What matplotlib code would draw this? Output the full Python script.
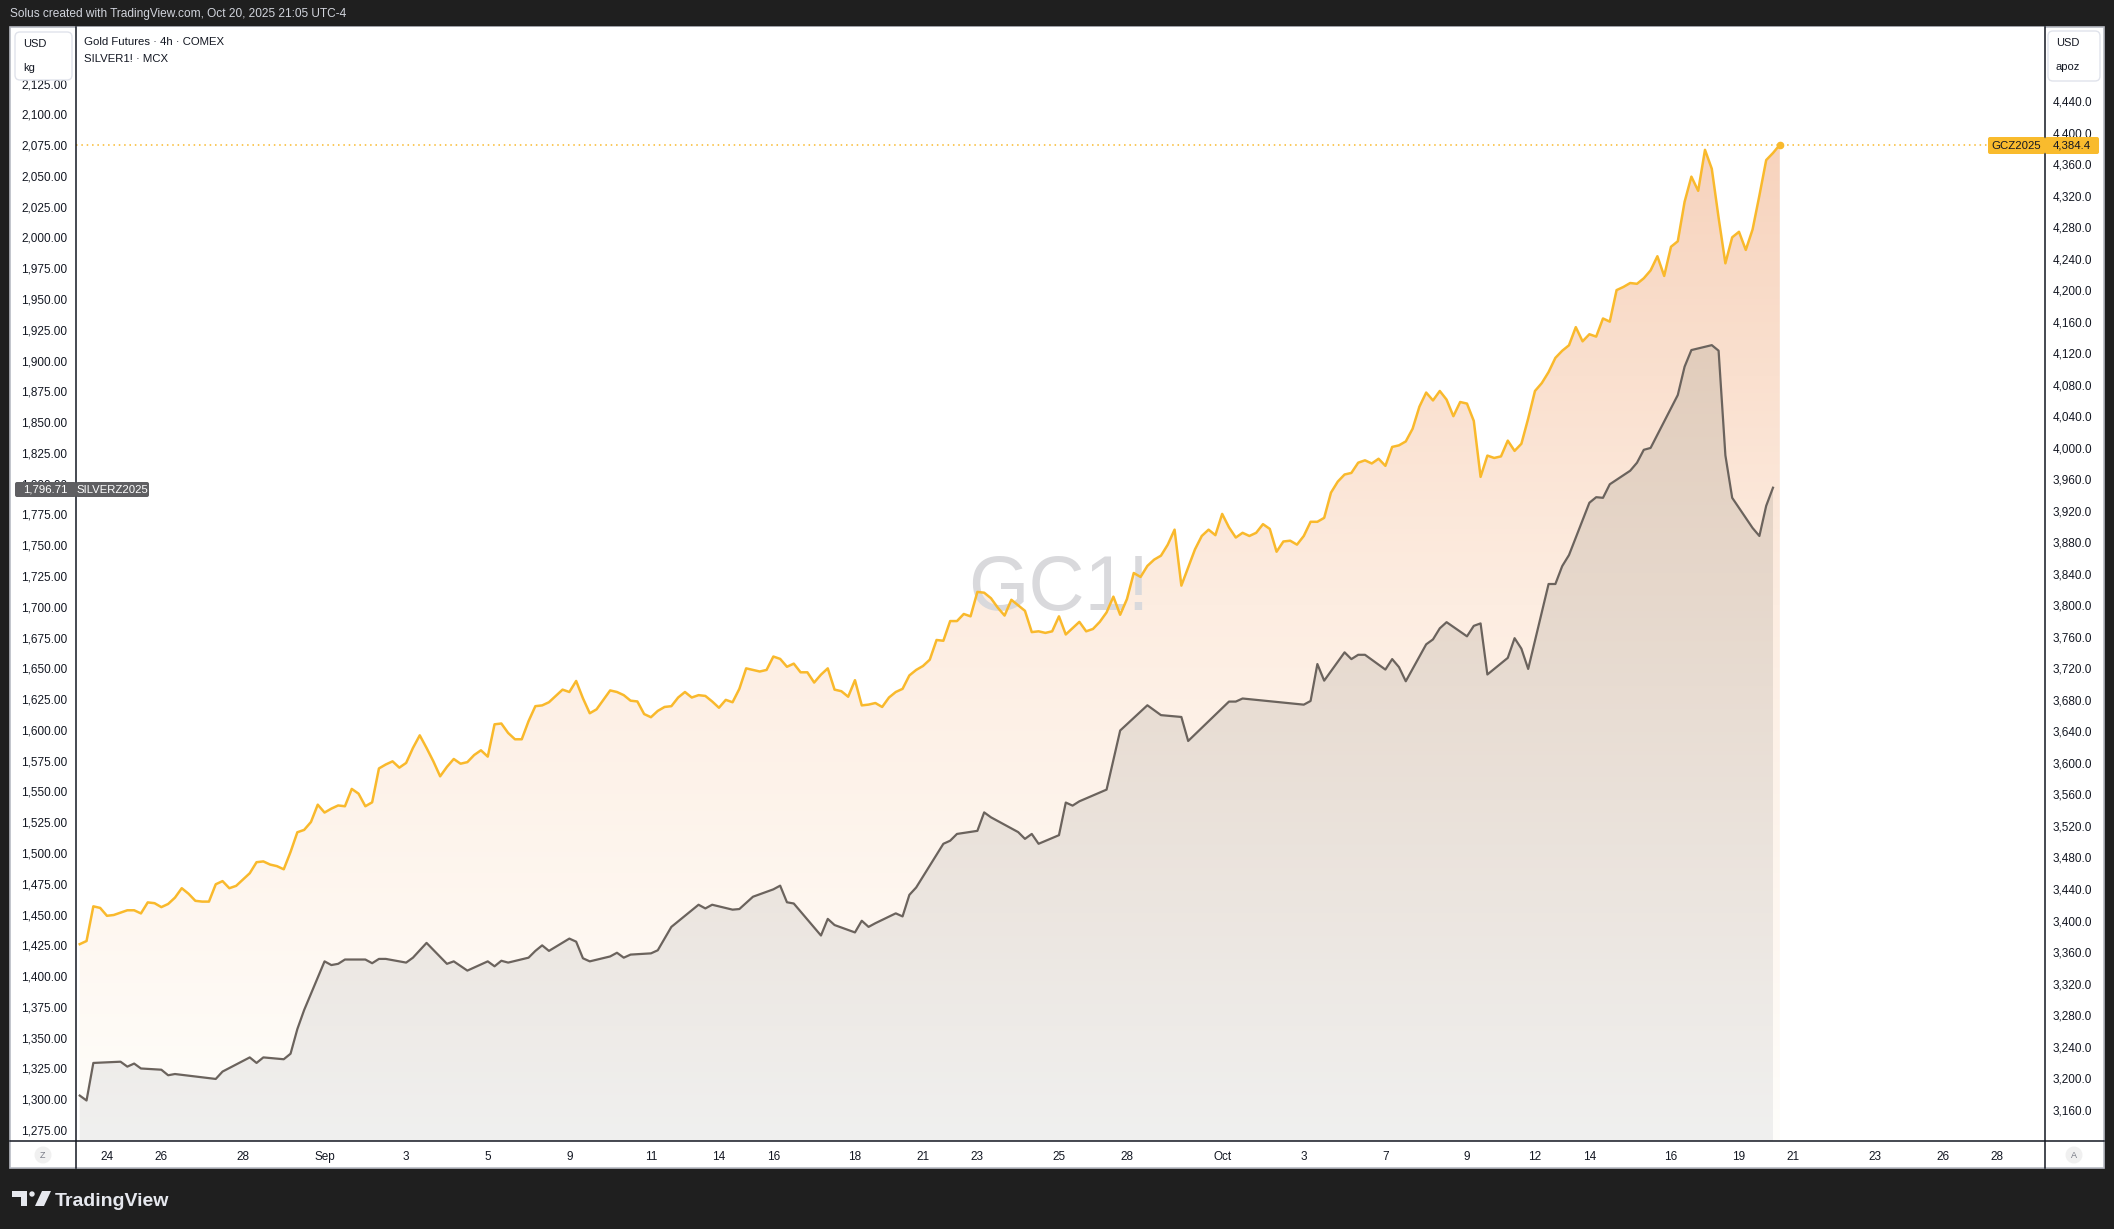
import numpy as np
import matplotlib
matplotlib.use("Agg")
import matplotlib.pyplot as plt
from matplotlib.patches import Rectangle, Circle, Polygon, FancyBboxPatch
from matplotlib.lines import Line2D
from matplotlib.colors import to_rgb
from matplotlib.ticker import FuncFormatter

plt.rcParams['font.family'] = ['Liberation Sans', 'DejaVu Sans']

# gold futures, one value per 4h bar (bar 0 = first bar on the chart)
gold = [
    3370, 3374, 3418, 3416, 3406, 3407, 3410, 3413, 3413, 3409,
    3423, 3422, 3417, 3421, 3429, 3441, 3434, 3425, 3424, 3424,
    3446, 3450, 3441, 3444, 3452, 3460, 3474, 3475, 3471, 3469,
    3465, 3487, 3512, 3515, 3525, 3547, 3537, 3542, 3546, 3545,
    3567, 3561, 3545, 3550, 3593, 3598, 3602, 3594, 3600, 3619,
    3635, 3619, 3602, 3583, 3595, 3605, 3599, 3601, 3610, 3616,
    3608, 3649, 3650, 3638, 3630, 3630, 3653, 3672, 3673, 3677,
    3685, 3693, 3690, 3704, 3682, 3663, 3668, 3680, 3692, 3690,
    3686, 3679, 3678, 3662, 3658, 3666, 3671, 3672, 3683, 3690,
    3683, 3686, 3685, 3678, 3670, 3680, 3677, 3694, 3720, 3718,
    3716, 3718, 3735, 3732, 3722, 3726, 3715, 3715, 3702, 3712,
    3720, 3693, 3691, 3684, 3705, 3673, 3674, 3676, 3671, 3683,
    3690, 3694, 3711, 3718, 3723, 3731, 3756, 3755, 3780, 3780,
    3789, 3786, 3817, 3816, 3809, 3797, 3787, 3807, 3800, 3793,
    3766, 3767, 3765, 3767, 3786, 3763, 3771, 3779, 3767, 3770,
    3779, 3791, 3811, 3788, 3808, 3841, 3836, 3850, 3858, 3863,
    3877, 3896, 3825, 3848, 3871, 3888, 3896, 3889, 3916, 3899,
    3886, 3892, 3888, 3892, 3903, 3897, 3868, 3881, 3882, 3877,
    3888, 3906, 3906, 3911, 3943, 3957, 3966, 3968, 3981, 3984,
    3980, 3986, 3977, 4001, 4003, 4008, 4024, 4052, 4070, 4060,
    4072, 4061, 4040, 4058, 4056, 4034, 3963, 3990, 3987, 3989,
    4009, 3996, 4005, 4037, 4072, 4082, 4096, 4114, 4123, 4130,
    4153, 4135, 4144, 4141, 4164, 4160, 4200, 4204, 4209, 4208,
    4215, 4225, 4243, 4218, 4255, 4262, 4312, 4344, 4326, 4378,
    4354, 4292, 4234, 4267, 4274, 4251, 4277, 4320, 4365, 4374,
    4384.4,
]

# silver (MCX) trades fewer hours, so only some bars carry a value
silver_bar = [
    0, 1, 2, 6, 7, 8, 9, 12, 13, 14, 20, 21, 25, 26, 27, 30, 31, 32, 33,
    36, 37, 38, 39, 42, 43, 44, 45, 48, 49, 51, 54, 55, 57, 60, 61, 62, 63,
    66, 67, 68, 69, 72, 73, 74, 75, 78, 79, 80, 81, 84, 85, 87, 91, 92, 93,
    96, 97, 99, 102, 103, 104, 105, 109, 110, 111, 114, 115, 116, 117, 120,
    121, 122, 123, 127, 128, 129, 132, 133, 134, 138, 139, 140, 141, 144,
    145, 146, 147, 151, 153, 157, 159, 162, 163, 169, 170, 171, 180, 181,
    182, 183, 186, 187, 188, 189, 192, 193, 194, 195, 198, 199, 200, 201,
    204, 205, 206, 207, 210, 211, 212, 213, 216, 217, 218, 219, 222, 223,
    224, 225, 228, 229, 230, 231, 235, 236, 237, 240, 241, 242, 243, 246,
    247, 248, 249,
]
silver = [
    1303, 1299, 1329.5, 1330.5, 1326.5, 1329, 1325, 1324, 1319.5, 1320.5,
    1316.5, 1322.5, 1334, 1329.5, 1334, 1332.5, 1337, 1357, 1372.5,
    1412, 1409, 1410, 1413.5, 1413.5, 1410.5, 1414, 1414, 1411, 1415, 1427,
    1410, 1412, 1404.5, 1412, 1408, 1412.5, 1411, 1415, 1420.5, 1425, 1420.5,
    1430.5, 1428, 1414.5, 1412, 1416, 1419, 1415, 1417.5, 1418.5, 1421, 1440,
    1458, 1455, 1458, 1454, 1454.5, 1464.5, 1470.5, 1473.5, 1460, 1459,
    1433, 1446.5, 1441.5, 1435.5, 1445, 1440, 1443, 1451, 1448.5, 1466, 1472,
    1507.5, 1510, 1515.5, 1518, 1533, 1529, 1517, 1511.5, 1515.5, 1507.5,
    1514.5, 1541, 1538.5, 1542, 1551.5, 1599.5, 1620, 1612, 1610.5, 1591,
    1623, 1623, 1625.5, 1620.5, 1623.5, 1653.5, 1640, 1663, 1657.5, 1661,
    1661, 1649, 1657.5, 1651, 1639.5, 1669.5, 1673.5, 1682.5, 1687.5, 1676,
    1684.5, 1686.5, 1645, 1658.5, 1674.5, 1666, 1649.5, 1718.5, 1718.5, 1733,
    1742, 1784.5, 1789, 1788.5, 1799.5, 1810.5, 1817, 1827.5, 1829, 1872,
    1895, 1908.5, 1912.5, 1908, 1823, 1788.5, 1764, 1757.5, 1782, 1796.71,
]

tick_bars = [4, 12, 24, 36, 48, 60, 72, 84, 94, 102, 114, 124, 132, 144, 154,
             168, 180, 192, 204, 214, 222, 234, 244, 252, 264, 274, 282]
tick_labels = ['24', '26', '28', 'Sep', '3', '5', '9', '11', '14', '16', '18',
               '21', '23', '25', '28', 'Oct', '3', '7', '9', '12', '14', '16',
               '19', '21', '23', '26', '28']

gold_ticks = np.arange(3160, 4441, 40)
silver_ticks = np.arange(1275, 2126, 25)

W, H = 2114, 1229
GOLD_C = '#f9b92c'
SILV_C = '#6b635d'
TXT = '#131722'


def px(x, y):
    # figure pixel (from top-left) -> inches for dpi_scale_trans
    return (x / 100, (H - y) / 100)


def gradient(stops_v, stops_c, lo, hi, n=600):
    vals = np.linspace(lo, hi, n)
    cols = np.array([to_rgb(c) for c in stops_c])
    img = np.stack([np.interp(vals, stops_v, cols[:, i]) for i in range(3)], axis=-1)
    return img[:, None, :]


fig = plt.figure(figsize=(W / 100, H / 100), dpi=100, facecolor='#1f1f1f')
T = fig.dpi_scale_trans

# white chart panel
fig.patches.append(Rectangle(px(10, 1168), 2094 / 100, 1141 / 100, transform=T,
                             facecolor='white', edgecolor='#b8bbc3', lw=1.2, zorder=-10))

ax = fig.add_axes([76 / W, (H - 1141) / H, (2045 - 76) / W, (1141 - 27) / H])
ax2 = ax.twinx()
ax.yaxis.tick_right()
ax2.yaxis.tick_left()

xlo, xhi = -0.55, 289.0
glo, ghi = 3120.2, 4533.9
slo, shi = 1266.1, 2170.9

x_gold = np.arange(len(gold))

# gold area with vertical gradient
poly = ax.fill_between(x_gold, gold, glo, facecolor='none', lw=0)
img = ax.imshow(gradient([glo, 3800, 4384, ghi],
                         ['#fffefb', '#fdede1', '#f7d3bd', '#f5ceb6'], glo, ghi),
                extent=(xlo, xhi, glo, ghi), origin='lower', aspect='auto', zorder=1)
img.set_clip_path(poly.get_paths()[0], transform=ax.transData)

ax.text(*px(1059, 610), 'GC1!', transform=T, fontsize=56, color='#d9d9dc',
        ha='center', va='baseline', zorder=1.5)

ax.axhline(gold[-1], color=GOLD_C, lw=1.1, ls=(0, (1, 2.5)), zorder=2.5)
ax.plot(x_gold, gold, color=GOLD_C, lw=1.8, zorder=3, solid_joinstyle='round')
ax.plot(x_gold[-1], gold[-1], 'o', color=GOLD_C, ms=4.5, zorder=4)

# silver area
poly2 = ax2.fill_between(silver_bar, silver, slo, facecolor='none', lw=0)
img2 = ax2.imshow(gradient([slo, 1912, shi], ['#f0f0ef', '#e2cdbc', '#dcc2ae'], slo, shi),
                  extent=(xlo, xhi, slo, shi), origin='lower', aspect='auto', zorder=1)
img2.set_clip_path(poly2.get_paths()[0], transform=ax2.transData)
ax2.plot(silver_bar, silver, color=SILV_C, lw=1.6, zorder=3, solid_joinstyle='round')

ax.set_xlim(xlo, xhi)
ax.set_ylim(glo, ghi)
ax2.set_ylim(slo, shi)
ax.set_facecolor('white')

ax.set_yticks(gold_ticks)
ax.yaxis.set_major_formatter(FuncFormatter(lambda v, p: f'{v:,.1f}'))
ax2.set_yticks(silver_ticks)
ax2.yaxis.set_major_formatter(FuncFormatter(lambda v, p: f'{v:,.2f}'))
ax.set_xticks(tick_bars)
ax.set_xticklabels(tick_labels)

ax.tick_params(axis='y', length=0, pad=5.6, labelsize=8.5, labelcolor=TXT)
ax2.tick_params(axis='y', length=0, pad=6.2, labelsize=8.5, labelcolor=TXT)
ax.tick_params(axis='x', length=0, pad=7.2, labelsize=8.5, labelcolor=TXT)
for a in (ax, ax2):
    for s in a.spines.values():
        s.set_visible(False)

# separators
for (x0, y0, x1, y1) in [(76, 27, 76, 1168), (2045, 27, 2045, 1168), (10, 1141, 2104, 1141)]:
    p0, p1 = px(x0, y0), px(x1, y1)
    fig.add_artist(Line2D([p0[0], p1[0]], [p0[1], p1[1]], transform=T,
                          color=TXT, lw=1.1, zorder=2))

# header
fig.text(*px(10, 14), 'Solus created with TradingView.com, Oct 20, 2025 21:05 UTC-4',
         transform=T, color='#d1d4dc', fontsize=8.6, ha='left', va='center')

# legend
fig.text(*px(84, 42), 'Gold Futures · 4h · COMEX', transform=T, color=TXT,
         fontsize=8.2, ha='left', va='center')
fig.text(*px(84, 59), 'SILVER1! · MCX', transform=T, color=TXT,
         fontsize=8.2, ha='left', va='center')

# unit boxes
for (x0, y0, x1, y1, lines) in [(15, 32, 72, 80, ['USD', 'kg']),
                                (2048, 31, 2100, 81, ['USD', 'apoz'])]:
    fig.patches.append(FancyBboxPatch(px(x0, y1), (x1 - x0) / 100, (y1 - y0) / 100,
                                      boxstyle='round,pad=0,rounding_size=0.05',
                                      transform=T, facecolor='white',
                                      edgecolor='#e0e3eb', lw=1, zorder=5))
    fig.text(*px(x0 + 8, y0 + 12), lines[0], transform=T, color=TXT, fontsize=8,
             ha='left', va='center', zorder=6)
    fig.text(*px(x0 + 8, y0 + 36), lines[1], transform=T, color=TXT, fontsize=8,
             ha='left', va='center', zorder=6)

# last value labels
labels = [
    (15, 76, 482, 497, '#5f5f62', 'white', f'{silver[-1]:,.2f}'),
    (76, 149, 482, 497, '#5f5f62', 'white', 'SILVERZ2025'),
    (1988, 2045, 137, 154, '#f9bb2d', TXT, 'GCZ2025'),
    (2045, 2099, 137, 154, '#f9bb2d', TXT, f'{gold[-1]:,.1f}'),
]
for (x0, x1, y0, y1, fc, tc, s) in labels:
    fig.patches.append(FancyBboxPatch(px(x0, y1), (x1 - x0) / 100, (y1 - y0) / 100,
                                      boxstyle='round,pad=0,rounding_size=0.02',
                                      transform=T, facecolor=fc, edgecolor='none',
                                      zorder=7))
    fig.text(*px((x0 + x1) / 2, (y0 + y1) / 2 + 0.5), s, transform=T, color=tc,
             fontsize=8.2, ha='center', va='center', zorder=8)

# bottom corner buttons
for (cx, s) in [(43, 'Z'), (2074, 'A')]:
    fig.patches.append(Circle(px(cx, 1155), 0.085, transform=T, facecolor='#f0f0f0',
                              edgecolor='none', zorder=5))
    fig.text(*px(cx, 1155), s, transform=T, color='#787b86', fontsize=6.5,
             ha='center', va='center', zorder=6)

# TradingView logo
logo_c = '#e6e8ee'
fig.patches.append(Polygon([px(12, 1191), px(27, 1191), px(27, 1206), px(21, 1206),
                            px(21, 1197), px(12, 1197)], closed=True, transform=T,
                           facecolor=logo_c, edgecolor='none', zorder=5))
fig.patches.append(Circle(px(32, 1194), 0.027, transform=T, facecolor=logo_c,
                          edgecolor='none', zorder=5))
fig.patches.append(Polygon([px(35, 1206), px(42, 1191), px(51, 1191), px(44, 1206)],
                           closed=True, transform=T, facecolor=logo_c,
                           edgecolor='none', zorder=5))
fig.text(*px(55, 1206), 'TradingView', transform=T, color=logo_c, fontsize=14,
         fontweight='bold', ha='left', va='baseline')

fig.savefig('out.png', dpi=100, facecolor=fig.get_facecolor())
